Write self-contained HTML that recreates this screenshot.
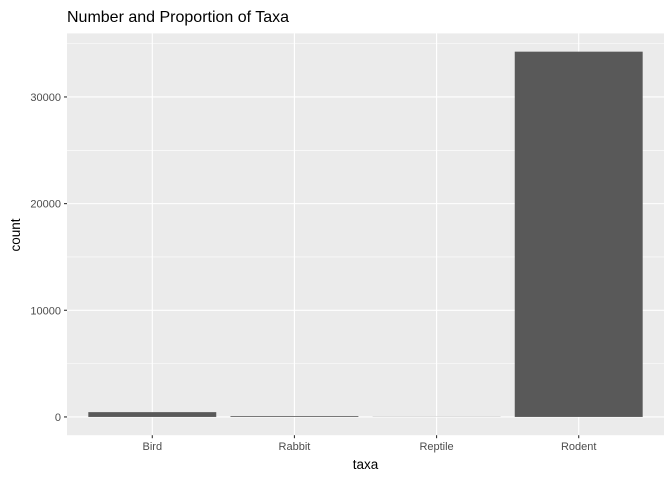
<!DOCTYPE html>
<html><head><meta charset="utf-8"><style>body{margin:0;background:#fff}svg{display:block;font-family:"Liberation Sans",sans-serif}</style></head>
<body>
<svg width="672" height="480" viewBox="0 0 672 480" id="c">
<rect width="672" height="480" fill="#fff"/>
<text x="67" y="22" font-size="16" fill="#000">Number and Proportion of Taxa</text>
<text x="365.5" y="469" font-size="13.5" text-anchor="middle">taxa</text>
<text transform="translate(20,235) rotate(-90)" font-size="13.5" text-anchor="middle">count</text>
</svg>
<script>
const categories=["Bird","Rabbit","Reptile","Rodent"];
const counts=[450,75,14,34247];
const yTicks=[0,10000,20000,30000];
const yTickLabels=["0","10000","20000","30000"];
const svg=document.getElementById('c');const NS="http://www.w3.org/2000/svg";
const L=67,R=664,T=33.4,B=435.2;
const maxV=Math.max(...counts);const lo=-0.05*maxV,hi=maxV*1.05;
const y=v=>B-(v-lo)/(hi-lo)*(B-T);
const step=(R-L)/(categories.length+0.2);
const x=i=>L+step*(0.6+i);
function mk(t,a){const e=document.createElementNS(NS,t);for(const k in a)e.setAttribute(k,a[k]);svg.appendChild(e);return e;}
const p=mk('rect',{x:L,y:T,width:R-L,height:B-T,fill:'#ebebeb'});


for(let i=0;i<yTicks.length;i++){const v=yTicks[i]+5000;if(v<hi){const g=mk('line',{x1:L,x2:R,y1:y(v),y2:y(v),stroke:'#fff','stroke-width':0.55});

}}
yTicks.forEach((v,i)=>{const g=mk('line',{x1:L,x2:R,y1:y(v),y2:y(v),stroke:'#fff','stroke-width':1.1});


const tk=mk('line',{x1:L-3,x2:L,y1:y(v),y2:y(v),stroke:'#333','stroke-width':1.1});


const t=mk('text',{x:L-6,y:y(v)+4,'font-size':11,fill:'#4d4d4d','text-anchor':'end'});t.textContent=yTickLabels[i];

});
categories.forEach((c,i)=>{const g=mk('line',{x1:x(i),x2:x(i),y1:T,y2:B,stroke:'#fff','stroke-width':1.1});

});
categories.forEach((c,i)=>{const w=step*0.9;const b=mk('rect',{x:x(i)-w/2,y:y(counts[i]),width:w,height:Math.max(0,y(0)-y(counts[i])),fill:'#595959'});


const tk=mk('line',{x1:x(i),x2:x(i),y1:B,y2:B+3,stroke:'#333','stroke-width':1.1});


const t=mk('text',{x:x(i),y:B+15,'font-size':11,fill:'#4d4d4d','text-anchor':'middle'});t.textContent=c;

});
</script>
</body></html>
